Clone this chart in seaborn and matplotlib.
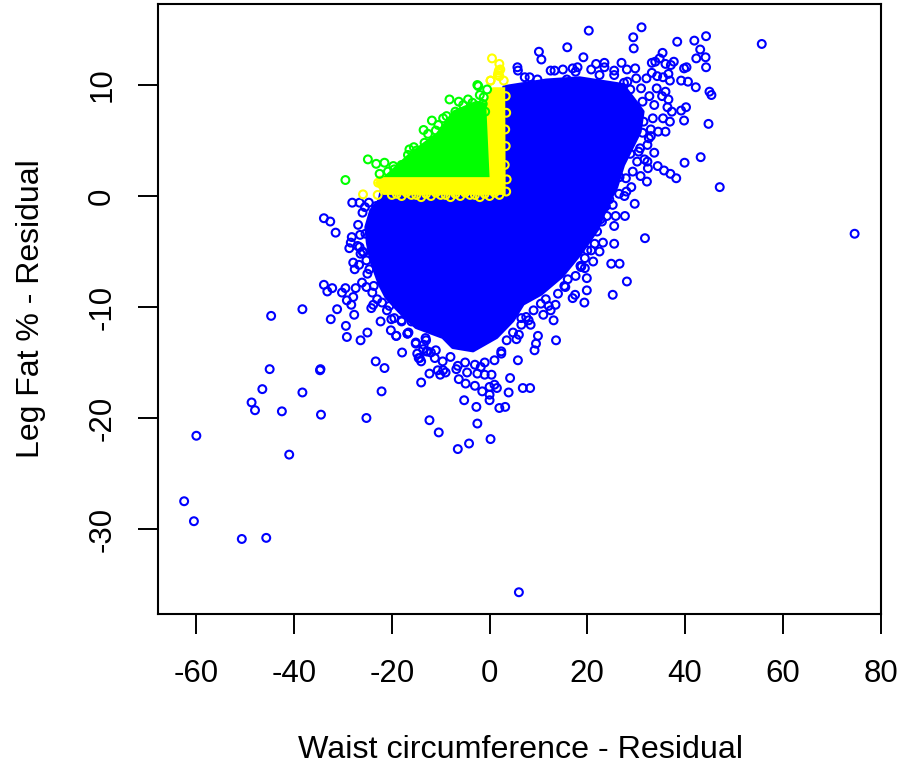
import matplotlib
matplotlib.use("Agg")
import matplotlib.pyplot as plt
import seaborn as sns

sns.set_style("white")
plt.rcParams['font.family'] = ['Liberation Sans', 'DejaVu Sans']

# Outline of the saturated mass of blue points
blue_mass_x = [-22.5,-24.2,-25.2,-24.9,-24.2,-22.5,-21.1,-18.4,-15,-9.5,-7.5,-3.4,1.4,4.7,6.8,10.5,14.8,18.5,22,24.2,25.9,27.3,30.7,31.3,29.3,27.2,18.4,11.6,3,3,-22]
blue_mass_y = [-0.4,-1.3,-2.8,-4.2,-5.8,-7.9,-9.1,-10.4,-11.8,-12.7,-13.6,-13.9,-12.7,-11.2,-9.7,-8.8,-7.2,-5.2,-3,-0.6,0.8,2.8,5.8,7.6,8.8,10,10.6,10.4,9.8,0.6,0.6]
yellow_mass_x = [3.2,3.3,-21.8,-23.5,-21.1,-1,-1.2,0.6]
yellow_mass_y = [9.8,0.1,0.1,1.2,2,2.2,8.4,9.8]
green_mass_x = [-21.8,-16.4,-10.9,-7.5,-2.7,-0.7,0]
green_mass_y = [1.7,3.9,5.7,7.7,8.6,8.4,1.7]

# Individually readable points
blue_x = [20.3,31.1,29.4,29.5,15.9,10.1,10.6,19.2,38.4,41.9,44.3,43.1,42.3,44.2,44.3,35.4,34.8,33.2,33.9,36,37.7,37.1,40.3,39.8,27,28.1,29.8,32.1,33.2,34.3,35.5,36.9,36.6,39.2,40.6,42.2,45,45.4,34.2,36,35.3,36.6,36.4,40.2,39.2,37.3,39.8,44.8,36.9,35.5,36,34.5,43.2,39.9,47.1,38.2,37,35.7,34.4,32.2,30.9,32.4,32.3,29.7,27.7,25.8,33.7,33,
 55.7,74.7,
 31.8,25.5,25.5,23.2,22.5,24.9,26.6,28.1,25.2,19.9,19.9,19.4,17,17.5,13.5,12.5,13.1,11,9.9,13.6,8,6.5,21.2,19.5,18.8,
 9.2,9.5,6,5.8,4.2,3.9,6.8,8.3,3.2,2,0,0,1.5,-2.7,-5.2,-2.5,-12.3,-10.4,0.2,-4.2,-6.5,-14,-12.3,-10.1,-10.6,-9.5,-9,-6.3,-4.9,-6.8,-3,-1.5,0,-2.5,-1,0.4,1,-17.9,-21.5,-22.1,-14.3,-14.8,-12.7,-13.6,-15.1,-16.8,-19.1,-20.2,-9.6,
 -38.3,-33.9,-32.6,-31.5,-33.9,-32.2,-33.2,-29.5,-30.2,-27.4,-25.2,-26.1,-27.9,-29.2,-28.3,-31.2,-32.5,-27.7,-29.4,-29.2,-26.4,-25,-22.3,-24.2,-23.8,-20.1,-19.1,-16.8,-15.1,-13.1,-23.3,-34.6,-14.5,-14,-12.9,-12,-28.1,-26.6,-24.7,-25.5,-26.9,-28.4,-28.7,-28.2,-26.4,-26.6,-27.6,-27.9,-25.2,
 -62.5,-60.5,-60,-50.7,-45.7,-48.7,-48,-46.5,-45,-44.7,-42.5,-41,-38.3,-34.5,-34.7,6,-25.2,
 5.7,5.8,7.2,8.2,9.8,12.5,13.3,15,17,18,17.6,15.8,21.8,23.5,23.5,20.8,25.5,25.5,22.5,28.2,30,31,32.7,33.7,33.4,33,31.3,32.3,30.5,29.3,27.9,29,27.6,25.2,23.5,
 24.5,24,23,22,21.5,20,19.5,18.6,17.6,16,15.5,14,11.5,10.5,9,7.5,6.5,4.8,3.5,2.4,1,-1,-3,-5,-8,-11,-13,-16,-18,
 -26,-26.5,-27,-26,-26.7,-25,-24,-23,-22,-21,-19.5,-18,
 31.5,32.6,29,30.8,31.7,30.2,28.8,31.3,30,27.5,28.8,26.6,28,25,26.5,24,25.3,22.7,23.8,24.7,
 -23.2,-24,-25.4,-25.8,-24.6,-23.7,-20.5,-16.6,-13.5,-11.2,-6.5,-4.6,-1.8,2.4,5.5,8.4,12.1,15.3,18.7,20.8]
blue_y = [14.9,15.2,14.3,13.3,13.4,13,12.3,12.5,13.9,14,14.4,13.2,12.4,12.5,11.6,12.9,12.4,12,12.1,11.9,12.1,11.8,11.6,11.5,12,11.4,11.5,10.6,11.1,10.8,10.7,10.4,11,10.4,10.3,9.8,9.4,9.1,9.7,9.4,9,8.7,8,8,7.7,7.6,6.8,6.5,6.7,7,5.8,5.8,3.5,3,0.8,1.6,2,2.3,2.7,1.3,1.8,2.5,3.1,-0.7,-1.8,-1.8,3.9,5.4,
 13.7,-3.4,
 -3.8,-2.7,-4.3,-4.2,-5,-6.1,-6.1,-7.7,-8.9,-7.4,-8.5,-9.6,-9.2,-8.9,-9.8,-10.3,-11.2,-10.7,-12.6,-13,-11.2,-11,-5.9,-6.5,-6.3,
 -13.9,-13.3,-12.5,-14.8,-16.4,-17.7,-17.3,-17.3,-19,-19.1,-18.4,-17.9,-17.3,-19,-18.4,-20.5,-20.2,-21.3,-21.9,-22.3,-22.8,-16.8,-16,-16.1,-15.7,-15.7,-15.9,-16.5,-16.9,-15.6,-17.1,-17.6,-17.2,-16,-16.1,-16.1,-17,-14.1,-15.5,-17.6,-14.6,-14.2,-14,-13.8,-13.2,-12.4,-12.6,-12.1,-14.9,
 -10.2,-2,-2.3,-3.3,-8,-8.3,-8.6,-8.3,-8.7,-8.3,-8.2,-7.8,-9.1,-9.4,-9.8,-10.2,-11.1,-10.7,-11.7,-12.7,-13,-12.3,-11.3,-10.1,-9.8,-11.1,-12.6,-12.4,-13.3,-12.8,-14.9,-15.6,-14.6,-14.9,-14,-14.1,-0.6,-0.6,-0.6,-1,-2.6,-4.2,-4.7,-3.7,-5.2,-4.6,-6.6,-6,-5.8,
 -27.5,-29.3,-21.6,-30.9,-30.8,-18.6,-19.3,-17.4,-15.6,-10.8,-19.4,-23.3,-17.7,-19.7,-15.7,-35.7,-20,
 11.6,11.3,10.7,10.7,10.5,11.3,11.3,11.4,11.5,11.6,11.2,10.5,11.9,12,11.6,11.4,11.3,10.9,10.9,10.3,10.6,9.7,9,8.2,7,6,5.7,4.6,4,2.2,1.6,0.8,0,-0.8,-1,
 -0.3,-1.8,-2.3,-3.2,-4.3,-4.9,-5.6,-6.3,-7.2,-7.5,-8.2,-8.8,-9.3,-9.7,-10.3,-10.9,-11.6,-12.3,-13,-14,-14.8,-15,-15.2,-15,-14.5,-13.9,-13,-11.3,-11.2,
 -1.5,-3.5,-4.5,-5,-6.2,-7,-8.7,-9.3,-9.6,-10.3,-11,-11.3,
 6.7,5.2,7.9,4.3,3.3,3.1,9.6,8.5,7.2,10.2,3.8,1.7,0.4,2.1,0.2,-0.4,1.1,-2.1,-0.9,0.6,
 -0.9,-2.2,-3.4,-5.1,-6.6,-8.1,-9.9,-12.3,-13.4,-14.6,-15.3,-15.9,-15.4,-14.2,-12.9,-11.6,-9.9,-8.1,-6.4,-4.9]

yellow_x = [-25.9,-22.9,-22.8,-22.2,0.2,1.7,1.9,0.5,2,2.2,2,1.8,0.2,2.9,-20,-18,-16,-14,-12,-10,-8,-6,-4,-2,0,2,3.4,3.5,3.1,3.3,3.2,3.4,3.3,-19,-17,-15,-13,-11,-9,-7,-5,-3,-1,1]
yellow_y = [0.15,0.1,1.2,1.4,10.4,10.9,11.3,12.4,11.9,11.4,10.8,11.1,10.4,10.4,0.1,0,0.1,-0.1,0,0.1,-0.1,0,0.1,-0.1,0,0.1,0.4,1.5,2.8,4.5,6,7.5,9,0.2,0.3,0.1,0.2,0.3,0.1,0.2,0.3,0.1,0.2,0.3]

green_x = [-29.5,-24.9,-23.2,-21.5,-22.5,-13.5,-11.8,-13.3,-16.4,-16.7,-8.2,-2.5,-0.5,-2,-9.5,-11,-7,-6.3,-4.4,-18,-14.9,-19.5,-10.5,-3.5,-1.2,-2.3,-19.7,-17.2,-20.8,-15.5,-12.6,-8.8,-5.4,-1.4,-0.9]
green_y = [1.44,3.3,2.9,3,2,5.95,6.8,4.8,4.2,3.7,8.7,10,9.6,9.1,7,5.9,7.6,8.5,8.7,2.8,4.1,2.4,6.4,8.4,8.9,9.9,2.7,2.6,2.2,4.4,5.6,7.2,8.2,8.3,7.6]

x_ticks = [-60,-40,-20,0,20,40,60,80]
y_ticks = [-30,-20,-10,0,10]
x_title = "Waist circumference - Residual"
y_title = "Leg Fat % - Residual"

fig = plt.figure(figsize=(9.02, 7.67), dpi=100)
ax = fig.add_axes([158/902, 1-614/767, (881-158)/902, (614-4)/767])

ring = dict(s=32, linewidth=1.5, legend=False, ax=ax)
ax.fill(blue_mass_x, blue_mass_y, facecolor="#0000ff", edgecolor="#0000ff", lw=3, joinstyle="round", zorder=2)
sns.scatterplot(x=blue_x, y=blue_y, edgecolor="#0000ff", zorder=2.1, **ring)
ax.collections[-1].set_facecolor("none")
ax.fill(yellow_mass_x, yellow_mass_y, color="#ffff00", lw=0, zorder=3)
sns.scatterplot(x=yellow_x, y=yellow_y, edgecolor="#ffff00", zorder=3.1, **ring)
ax.collections[-1].set_facecolor("none")
ax.fill(green_mass_x, green_mass_y, color="#00ff00", lw=0, zorder=4)
sns.scatterplot(x=green_x, y=green_y, edgecolor="#00ff00", zorder=4.1, **ring)
ax.collections[-1].set_facecolor("none")

ax.set_xlim(-67.85, 80.1)
ax.set_ylim(-37.66, 17.3)
ax.set_xticks(x_ticks)
ax.set_yticks(y_ticks)
ax.set_xticklabels([str(t) for t in x_ticks])
ax.set_yticklabels([str(t) for t in y_ticks])
ax.tick_params(axis="both", length=14.4, width=1.4, color="black", labelcolor="black", labelsize=22.5, bottom=True, left=True)
ax.tick_params(axis="x", pad=18)
ax.tick_params(axis="y", pad=15)
for lab in ax.get_yticklabels():
    lab.set_rotation(90)
    lab.set_va("center")
for s in ax.spines.values():
    s.set_visible(True)
    s.set_color("black")
    s.set_linewidth(1.5)
ax.grid(False)
ax.set_xlabel(x_title, fontsize=23.2, labelpad=33, color="black")
ax.set_ylabel(y_title, fontsize=23, labelpad=29.5, color="black")
ax.xaxis.label.set_x((520-158)/(881-158))
fig.savefig("out.png", dpi=100)
